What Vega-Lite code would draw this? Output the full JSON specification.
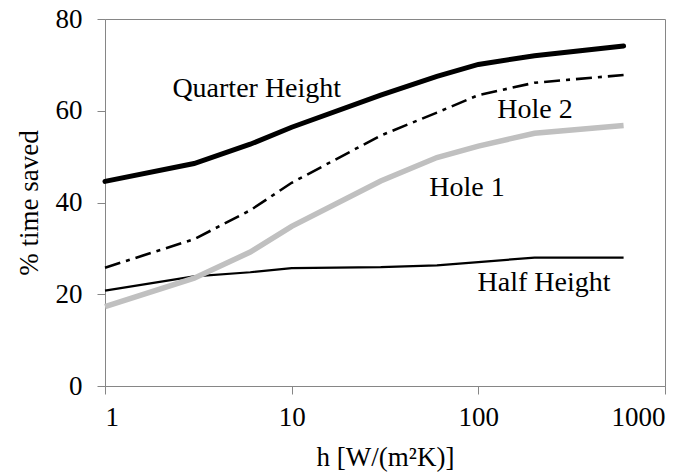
{
  "$schema": "https://vega.github.io/schema/vega-lite/v6.json",
  "width": 560,
  "height": 367,
  "autosize": "none",
  "padding": {"left": 105, "top": 19, "right": 29, "bottom": 88},
  "background": "white",
  "config": {
    "view": {"stroke": "#868686", "strokeWidth": 1},
    "font": "Liberation Serif",
    "axis": {
      "grid": false,
      "domainColor": "#868686",
      "tickColor": "#868686",
      "tickSize": 8,
      "labelFont": "Liberation Serif",
      "labelFontSize": 27,
      "labelColor": "black",
      "titleFont": "Liberation Serif",
      "titleFontSize": 27,
      "titleFontWeight": "normal",
      "titleColor": "black"
    }
  },
  "datasets": {
    "curves": [
      {"series": "Half Height", "h": 1, "pct": 20.8},
      {"series": "Half Height", "h": 3, "pct": 23.9},
      {"series": "Half Height", "h": 6, "pct": 24.8},
      {"series": "Half Height", "h": 10, "pct": 25.7},
      {"series": "Half Height", "h": 30, "pct": 25.9},
      {"series": "Half Height", "h": 60, "pct": 26.3},
      {"series": "Half Height", "h": 100, "pct": 27.0},
      {"series": "Half Height", "h": 200, "pct": 28.0},
      {"series": "Half Height", "h": 600, "pct": 28.0},
      {"series": "Hole 2", "h": 1, "pct": 25.8},
      {"series": "Hole 2", "h": 3, "pct": 32.0},
      {"series": "Hole 2", "h": 6, "pct": 38.3},
      {"series": "Hole 2", "h": 10, "pct": 44.3},
      {"series": "Hole 2", "h": 30, "pct": 54.6},
      {"series": "Hole 2", "h": 60, "pct": 59.6},
      {"series": "Hole 2", "h": 100, "pct": 63.4},
      {"series": "Hole 2", "h": 200, "pct": 66.1},
      {"series": "Hole 2", "h": 600, "pct": 67.8},
      {"series": "Hole 1", "h": 1, "pct": 17.3},
      {"series": "Hole 1", "h": 3, "pct": 23.5},
      {"series": "Hole 1", "h": 6, "pct": 29.2},
      {"series": "Hole 1", "h": 10, "pct": 34.8},
      {"series": "Hole 1", "h": 30, "pct": 44.7},
      {"series": "Hole 1", "h": 60, "pct": 49.8},
      {"series": "Hole 1", "h": 100, "pct": 52.3},
      {"series": "Hole 1", "h": 200, "pct": 55.1},
      {"series": "Hole 1", "h": 600, "pct": 56.8},
      {"series": "Quarter Height", "h": 1, "pct": 44.6},
      {"series": "Quarter Height", "h": 3, "pct": 48.5},
      {"series": "Quarter Height", "h": 6, "pct": 52.7},
      {"series": "Quarter Height", "h": 10, "pct": 56.4},
      {"series": "Quarter Height", "h": 30, "pct": 63.4},
      {"series": "Quarter Height", "h": 60, "pct": 67.5},
      {"series": "Quarter Height", "h": 100, "pct": 70.1},
      {"series": "Quarter Height", "h": 200, "pct": 72.0},
      {"series": "Quarter Height", "h": 600, "pct": 74.1}
    ],
    "labels": [
      {"label": "Quarter Height", "h": 6.5, "pct": 63.0},
      {"label": "Hole 2", "h": 201, "pct": 58.4},
      {"label": "Hole 1", "h": 87, "pct": 41.5},
      {"label": "Half Height", "h": 225, "pct": 20.6}
    ]
  },
  "encoding": {
    "x": {
      "field": "h",
      "type": "quantitative",
      "scale": {"type": "log", "domain": [1, 1000]},
      "axis": {
        "values": [1, 10, 100, 1000],
        "format": "d",
        "labelPadding": 10,
        "title": "h [W/(m²K)]",
        "titlePadding": 14
      }
    },
    "y": {
      "field": "pct",
      "type": "quantitative",
      "scale": {"domain": [0, 80]},
      "axis": {
        "values": [0, 20, 40, 60, 80],
        "labelPadding": 15,
        "title": "% time saved",
        "titlePadding": 12
      }
    }
  },
  "layer": [
    {
      "data": {"name": "curves"},
      "transform": [{"filter": "datum.series === 'Half Height'"}],
      "mark": {"type": "line", "color": "#000000", "strokeWidth": 2.2}
    },
    {
      "data": {"name": "curves"},
      "transform": [{"filter": "datum.series === 'Hole 2'"}],
      "mark": {"type": "line", "color": "#000000", "strokeWidth": 2.6, "strokeDash": [16, 6, 4, 6]}
    },
    {
      "data": {"name": "curves"},
      "transform": [{"filter": "datum.series === 'Hole 1'"}],
      "mark": {"type": "line", "color": "#c0c0c0", "strokeWidth": 5.5}
    },
    {
      "data": {"name": "curves"},
      "transform": [{"filter": "datum.series === 'Quarter Height'"}],
      "mark": {"type": "line", "color": "#000000", "strokeWidth": 5, "strokeCap": "round"}
    },
    {
      "data": {"name": "labels"},
      "mark": {
        "type": "text",
        "font": "Liberation Serif",
        "fontSize": 28,
        "align": "center",
        "baseline": "alphabetic",
        "color": "black"
      },
      "encoding": {
        "text": {"field": "label"}
      }
    }
  ]
}
